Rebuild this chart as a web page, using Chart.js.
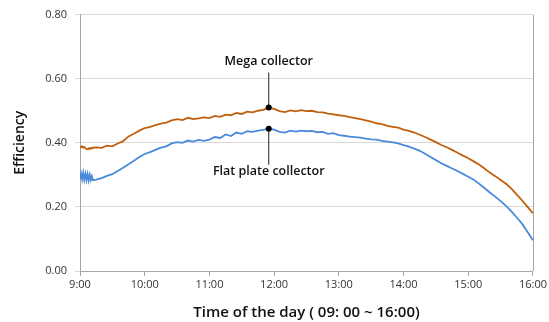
<!DOCTYPE html>
<html><head><meta charset="utf-8">
<script src="https://cdn.jsdelivr.net/npm/chart.js@4/dist/chart.umd.min.js"></script>
<style>html,body{margin:0;padding:0;background:#fff}#wrap{width:549px;height:322px}</style>
</head><body><div id="wrap"><canvas id="c" width="549" height="322"></canvas></div>
<script>
const tickLabels = ["9:00","10:00","11:00","12:00","13:00","14:00","15:00","16:00"];
const minutes = [0,1,2,3,4,5,6,7,8,9,10,11,12,15,20,25,30,35,40,45,50,55,60,65,70,75,80,85,90,95,100,105,110,115,120,125,130,135,140,145,150,155,160,165,170,175,180,185,190,195,200,205,210,215,220,225,230,235,240,245,250,255,260,265,270,275,280,285,290,295,300,305,310,315,320,325,330,335,340,345,350,355,360,365,370,375,380,385,390,395,400,405,410,415,420];
const megaCollector = [0.388,0.386,0.389,0.385,0.387,0.383,0.381,0.380,0.383,0.381,0.384,0.382,0.385,0.386,0.384,0.391,0.389,0.398,0.405,0.420,0.428,0.438,0.446,0.450,0.455,0.460,0.463,0.470,0.474,0.471,0.478,0.474,0.476,0.479,0.477,0.484,0.481,0.488,0.486,0.493,0.490,0.497,0.495,0.500,0.503,0.510,0.506,0.499,0.496,0.501,0.498,0.502,0.499,0.500,0.496,0.495,0.491,0.489,0.486,0.484,0.480,0.477,0.474,0.470,0.466,0.461,0.458,0.453,0.450,0.447,0.441,0.437,0.432,0.425,0.418,0.410,0.402,0.393,0.386,0.378,0.369,0.360,0.352,0.342,0.332,0.320,0.307,0.296,0.284,0.272,0.257,0.238,0.220,0.200,0.180];
const flatPlateCollector = [0.288,0.304,0.286,0.306,0.285,0.303,0.284,0.302,0.283,0.300,0.284,0.296,0.283,0.285,0.290,0.297,0.302,0.312,0.322,0.333,0.344,0.356,0.365,0.371,0.378,0.385,0.389,0.398,0.402,0.400,0.407,0.404,0.409,0.406,0.410,0.418,0.415,0.426,0.421,0.432,0.428,0.436,0.434,0.438,0.440,0.444,0.441,0.434,0.432,0.438,0.435,0.438,0.436,0.437,0.433,0.434,0.428,0.430,0.424,0.422,0.419,0.418,0.416,0.413,0.411,0.410,0.406,0.404,0.401,0.398,0.393,0.388,0.382,0.375,0.366,0.356,0.346,0.336,0.328,0.320,0.312,0.303,0.294,0.285,0.272,0.259,0.245,0.232,0.218,0.203,0.186,0.167,0.147,0.122,0.096];
const seriesNames = ["Mega collector","Flat plate collector"];
const markerMinute = 175;

const FONT = "'Open Sans', 'Noto Sans', sans-serif";
const toXY = vals => vals.map((v,i)=>({x:minutes[i], y:v}));

const annot = {
  id:'annot',
  afterDatasetsDraw(chart){
    const ctx = chart.ctx, xs = chart.scales.x, ys = chart.scales.y, ca = chart.chartArea;
    ctx.save();
    ctx.strokeStyle = '#a6a6a6'; ctx.lineWidth = 1;
    ctx.beginPath(); ctx.moveTo(Math.round(ca.right)+0.5, ca.top); ctx.lineTo(Math.round(ca.right)+0.5, ca.bottom); ctx.stroke();
    const idx = minutes.indexOf(markerMinute);
    const px = xs.getPixelForValue(markerMinute);
    const yM = ys.getPixelForValue(megaCollector[idx]);
    const yF = ys.getPixelForValue(flatPlateCollector[idx]);
    ctx.strokeStyle = '#222'; ctx.lineWidth = 1;
    ctx.beginPath(); ctx.moveTo(px, yM); ctx.lineTo(px, yM-35); ctx.stroke();
    ctx.beginPath(); ctx.moveTo(px, yF); ctx.lineTo(px, yF+36); ctx.stroke();
    ctx.fillStyle = '#000';
    [yM,yF].forEach(y=>{ctx.beginPath(); ctx.arc(px,y,3,0,Math.PI*2); ctx.fill();});
    ctx.font = "600 12.5px " + FONT; ctx.textAlign='center'; ctx.textBaseline='middle';
    ctx.fillStyle = '#111';
    ctx.fillText(seriesNames[0], px, yM-46);
    ctx.fillText(seriesNames[1], px, yF+43);
    ctx.restore();
  }
};

new Chart(document.getElementById('c'), {
  type:'line',
  data:{datasets:[
    {label:seriesNames[0], data:toXY(megaCollector), borderColor:'#c0600f', borderWidth:1.8, pointRadius:0, tension:0},
    {label:seriesNames[1], data:toXY(flatPlateCollector), borderColor:'#4a8adb', borderWidth:1.8, pointRadius:0, tension:0}
  ]},
  options:{
    responsive:false, animation:false,
    layout:{padding:{top:14,right:14,left:0,bottom:0}},
    plugins:{legend:{display:false}, tooltip:{enabled:false}},
    scales:{
      x:{type:'linear', min:0, max:420,
        afterFit(s){s.height=51;},
        ticks:{stepSize:60, autoSkip:false, maxRotation:0, color:'#333', font:{family:FONT,size:11}, padding:2,
          callback:(v)=>tickLabels[Math.round(v/60)]},
        grid:{drawOnChartArea:false, tickLength:5, color:'#a6a6a6'},
        border:{color:'#a6a6a6'},
        title:{display:true, text:'Time of the day ( 09: 00 ~ 16:00)', color:'#111', font:{family:FONT,size:15,weight:'600'}, padding:{top:3,bottom:0}}
      },
      y:{min:0, max:0.8,
        afterFit(s){s.width=80;},
        ticks:{stepSize:0.2, color:'#333', font:{family:FONT,size:11}, padding:8, callback:v=>v.toFixed(2)},
        grid:{color:'#d9d9d9', tickLength:5},
        border:{color:'#a6a6a6'},
        title:{display:true, text:'Efficiency', color:'#111', font:{family:FONT,size:14,weight:'600'}, padding:{top:12,bottom:0}}
      }
    }
  },
  plugins:[annot]
});
</script></body></html>
